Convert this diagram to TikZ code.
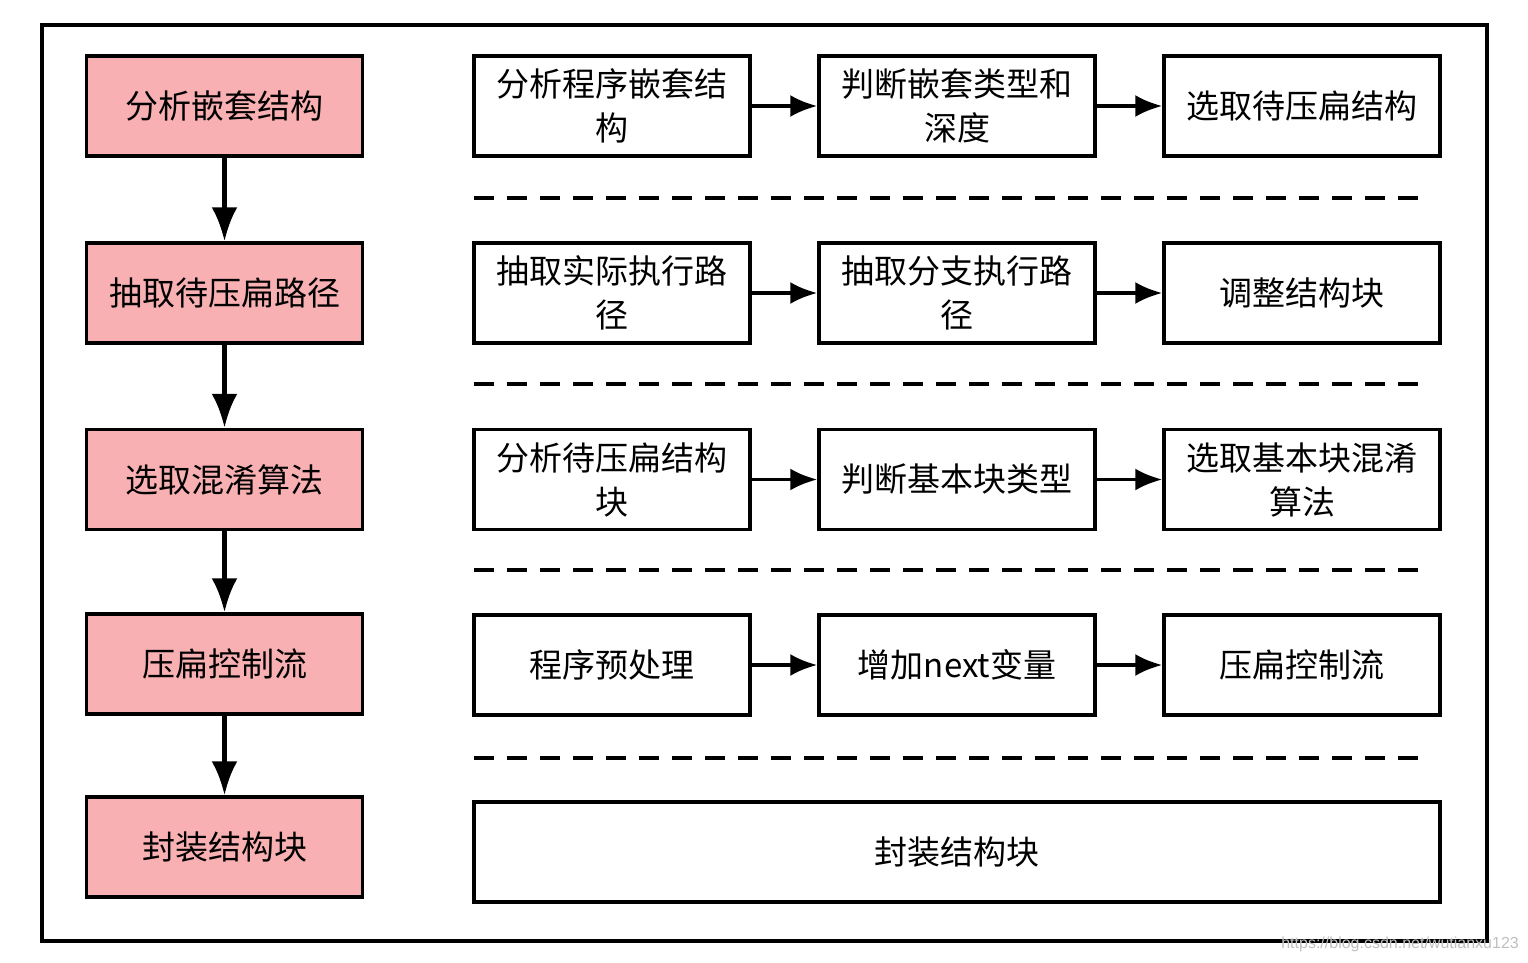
\documentclass[tikz,border=0pt]{standalone}
\usepackage{fontspec}
\setmainfont{Noto Sans CJK SC}
\newfontfamily\wmfont{Liberation Sans}
\usepackage{tikz}
\usetikzlibrary{positioning,arrows.meta}
\definecolor{stagepink}{RGB}{248,176,178}

\begin{document}
\begin{tikzpicture}[x=1pt, y=-1pt, font=\fontsize{33}{44}\selectfont,
    stagebox/.style={draw, fill=stagepink, line width=3.5pt, minimum width=276pt, minimum height=100pt, inner sep=0pt},
    taskbox/.style={draw, fill=white, line width=3.5pt, minimum width=276pt, minimum height=100pt, inner sep=0pt, align=center},
    downarrow/.style={-{Latex[length=34pt,width=26pt]}, line width=5pt},
    rightarrow/.style={-{Latex[length=27pt,width=22pt]}, line width=3.5pt},
    sepline/.style={line width=4pt, dash pattern=on 20pt off 13pt}]
        \useasboundingbox (0,0) rectangle (1528,963);
        \draw[line width=3.5pt] (42,25) rectangle (1487,941);
        % left column
        \foreach \i/\y/\name in {1/106/分析嵌套结构,2/293/抽取待压扁路径,3/479.5/选取混淆算法,4/664/压扁控制流,5/847/封装结构块}{\node[stagebox] (stage\i) at (224.5,\y) {\name};}
        \foreach \i/\j in {1/2,2/3,3/4,4/5}{\draw[downarrow] (stage\i) -- (stage\j);}
        % right side
        \node[taskbox] (task11) at (612,106) {分析程序嵌套结\\构};
        \node[taskbox] (task12) at (957,106) {判断嵌套类型和\\深度};
        \node[taskbox] (task13) at (1302,106) {选取待压扁结构};
        \node[taskbox] (task21) at (612,293) {抽取实际执行路\\径};
        \node[taskbox] (task22) at (957,293) {抽取分支执行路\\径};
        \node[taskbox] (task23) at (1302,293) {调整结构块};
        \node[taskbox] (task31) at (612,479.5) {分析待压扁结构\\块};
        \node[taskbox] (task32) at (957,479.5) {判断基本块类型};
        \node[taskbox] (task33) at (1302,479.5) {选取基本块混淆\\算法};
        \node[taskbox] (task41) at (612,665) {程序预处理};
        \node[taskbox] (task42) at (957,665) {增加next变量};
        \node[taskbox] (task43) at (1302,665) {压扁控制流};
        \node[taskbox, minimum width=966pt] (task5) at (957,852) {封装结构块};
        \foreach \r in {1,...,4}{
            \draw[rightarrow] (task\r1) -- (task\r2);
            \draw[rightarrow] (task\r2) -- (task\r3);
        }
        \foreach \y in {198,384,570,758}{\draw[sepline] (474,\y) -- (1420,\y);}
        \node[font=\wmfont\fontsize{16}{16}\selectfont, text=black!25, anchor=east, inner sep=0pt] (watermark) at (1519,944) {https://blog.csdn.net/wutianxu123};
\end{tikzpicture}
\end{document}
